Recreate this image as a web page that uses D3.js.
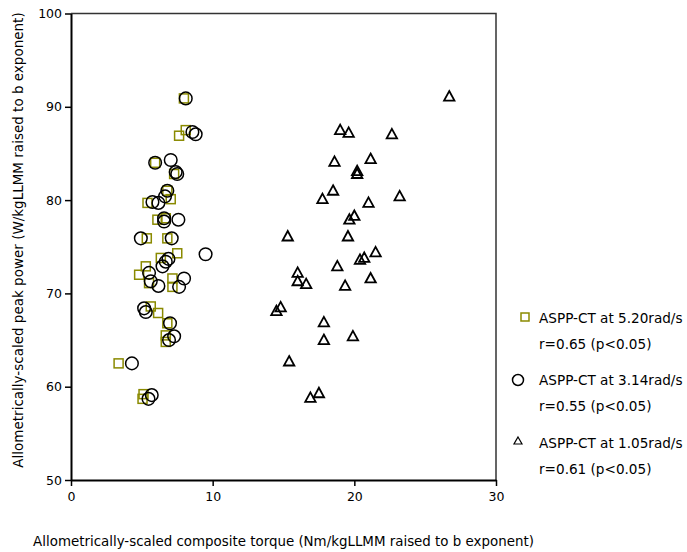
<!DOCTYPE html>
<html>
<head>
<meta charset="utf-8">
<script src="https://cdn.jsdelivr.net/npm/d3@7"></script>
<style>
  body { margin: 0; background: #fff; }
  text { font-family: "DejaVu Sans", Verdana, sans-serif; }
</style>
</head>
<body>
<div id="chart"></div>
<script>
// ASPP-CT at 5.20 rad/s (squares)
const fastX = [7.97, 7.63, 8.1, 5.94, 7.28, 6.8, 7.04, 5.4, 6.1, 6.69, 5.35, 6.8, 7.5, 6.34, 5.28, 4.81, 5.51, 7.16, 7.16, 5.63, 6.15, 6.8, 6.69, 6.69, 3.36, 5.12, 5.05];
const fastY = [90.9, 86.9, 87.5, 84.0, 82.8, 81.0, 80.1, 79.7, 77.9, 78.05, 75.9, 75.9, 74.3, 73.8, 72.9, 72.0, 71.1, 71.6, 70.7, 68.6, 67.9, 66.8, 65.5, 64.8, 62.5, 59.2, 58.7];
// ASPP-CT at 3.14 rad/s (circles)
const midX = [8.1, 8.57, 8.8, 5.94, 7.04, 7.39, 7.5, 6.8, 6.64, 5.75, 6.17, 6.57, 6.57, 7.58, 4.93, 7.11, 9.5, 6.88, 6.69, 6.46, 5.51, 5.63, 6.17, 7.98, 7.63, 5.16, 5.28, 6.99, 7.28, 6.92, 4.3, 5.7, 5.47];
const midY = [90.9, 87.3, 87.05, 84.0, 84.3, 83.0, 82.8, 81.0, 80.4, 79.8, 79.7, 78.05, 77.7, 77.9, 75.9, 75.9, 74.2, 73.7, 73.4, 72.9, 72.2, 71.3, 70.8, 71.6, 70.7, 68.4, 68.0, 66.8, 65.4, 65.0, 62.5, 59.1, 58.7];
// ASPP-CT at 1.05 rad/s (triangles)
const slowX = [26.7, 19.0, 19.6, 22.65, 18.6, 21.15, 20.2, 20.2, 18.5, 17.75, 21.0, 23.2, 20.0, 19.65, 15.3, 19.55, 21.5, 20.7, 20.4, 18.8, 16.0, 16.0, 16.6, 19.35, 21.15, 14.5, 14.8, 17.85, 17.85, 19.9, 15.4, 17.5, 16.9];
const slowY = [91.1, 87.5, 87.2, 87.05, 84.1, 84.4, 83.1, 82.8, 81.0, 80.1, 79.7, 80.4, 78.3, 77.9, 76.1, 76.1, 74.4, 73.8, 73.6, 72.9, 72.2, 71.3, 71.0, 70.8, 71.6, 68.1, 68.5, 66.9, 65.0, 65.4, 62.7, 59.3, 58.8];

const xTicks = [0, 10, 20, 30];
const yTicks = [50, 60, 70, 80, 90, 100];
const legendLines = [
  ["ASPP-CT at 5.20rad/s", "r=0.65 (p<0.05)"],
  ["ASPP-CT at 3.14rad/s", "r=0.55 (p<0.05)"],
  ["ASPP-CT at 1.05rad/s", "r=0.61 (p<0.05)"]
];
const xTitle = "Allometrically-scaled composite torque (Nm/kgLLMM raised to b exponent)";
const yTitle = "Allometrically-scaled peak power (W/kgLLMM raised to b exponent)";

const W = 687, H = 552;
const plot = { left: 71, top: 13.5, right: 496, bottom: 480 };
const olive = "#8a8a00";

const svg = d3.select("#chart").append("svg")
  .attr("width", W)
  .attr("height", H);

const x = d3.scaleLinear().domain([0, 30]).range([plot.left, plot.right]);
const y = d3.scaleLinear().domain([50, 100]).range([plot.bottom, plot.top]);

// frame (top / right)
svg.append("path")
  .attr("d", `M${plot.left},${plot.top}H${plot.right}V${plot.bottom}`)
  .attr("fill", "none")
  .attr("stroke", "#333")
  .attr("stroke-width", 1.5);

const xAxis = svg.append("g")
  .attr("transform", `translate(0,${plot.bottom})`)
  .call(d3.axisBottom(x).tickValues(xTicks).tickSize(6).tickSizeOuter(0));
const yAxis = svg.append("g")
  .attr("transform", `translate(${plot.left},0)`)
  .call(d3.axisLeft(y).tickValues(yTicks).tickSize(6).tickSizeOuter(0));

[xAxis, yAxis].forEach(g => {
  g.select(".domain").attr("stroke", "#000").attr("stroke-width", 2);
  g.selectAll(".tick line").attr("stroke", "#000").attr("stroke-width", 1.5);
  g.selectAll(".tick text")
    .attr("fill", "#000")
    .style("font-size", "12.5px")
    .style("font-family", "'DejaVu Sans', Verdana, sans-serif");
});
xAxis.selectAll(".tick text").attr("dy", "0.71em").attr("y", 12);
yAxis.selectAll(".tick text").attr("x", -9);

// points
const fast = fastX.map((v, i) => ({ x: v, y: fastY[i] }));
const mid = midX.map((v, i) => ({ x: v, y: midY[i] }));
const slow = slowX.map((v, i) => ({ x: v, y: slowY[i] }));

const tri = "M0,-5.5L5.2,4L-5.2,4Z";

svg.append("g").selectAll("rect")
  .data(fast)
  .enter()
  .append("rect")
  .attr("x", d => x(d.x) - 4.5)
  .attr("y", d => y(d.y) - 4.5)
  .attr("width", 9)
  .attr("height", 9)
  .attr("fill", "none")
  .attr("stroke", olive)
  .attr("stroke-width", 1.5);

svg.append("g").selectAll("circle")
  .data(mid)
  .enter()
  .append("circle")
  .attr("cx", d => x(d.x))
  .attr("cy", d => y(d.y))
  .attr("r", 6.3)
  .attr("fill", "none")
  .attr("stroke", "#000")
  .attr("stroke-width", 1.5);

svg.append("g").selectAll("path")
  .data(slow)
  .enter()
  .append("path")
  .attr("d", tri)
  .attr("transform", d => `translate(${x(d.x)},${y(d.y)})`)
  .attr("fill", "none")
  .attr("stroke", "#000")
  .attr("stroke-width", 1.8);

// legend
const legend = svg.append("g");
const legendY = [318, 380, 443];
legendLines.forEach((lines, i) => {
  const cy = legendY[i];
  if (i === 0) {
    legend.append("rect").attr("x", 521).attr("y", cy - 5).attr("width", 8).attr("height", 8)
      .attr("fill", "none").attr("stroke", olive).attr("stroke-width", 1.5);
  } else if (i === 1) {
    legend.append("circle").attr("cx", 518).attr("cy", cy).attr("r", 5.5)
      .attr("fill", "none").attr("stroke", "#000").attr("stroke-width", 1.5);
  } else {
    legend.append("path").attr("d", "M0,-4L4,3L-4,3Z")
      .attr("transform", `translate(518,${cy - 2})`)
      .attr("fill", "none").attr("stroke", "#000").attr("stroke-width", 1.2);
  }
  lines.forEach((t, j) => {
    legend.append("text")
      .attr("x", 539)
      .attr("y", cy + j * 26)
      .attr("dy", "0.35em")
      .style("font-size", "13.6px")
      .text(t);
  });
});

// axis titles
svg.append("text")
  .attr("x", (plot.left + plot.right) / 2)
  .attr("y", 541)
  .attr("dy", "0.35em")
  .attr("text-anchor", "middle")
  .style("font-size", "13.4px")
  .text(xTitle);

svg.append("text")
  .attr("transform", `translate(18,240) rotate(-90)`)
  .attr("dy", "0.35em")
  .attr("text-anchor", "middle")
  .style("font-size", "13.5px")
  .text(yTitle);
</script>
</body>
</html>
